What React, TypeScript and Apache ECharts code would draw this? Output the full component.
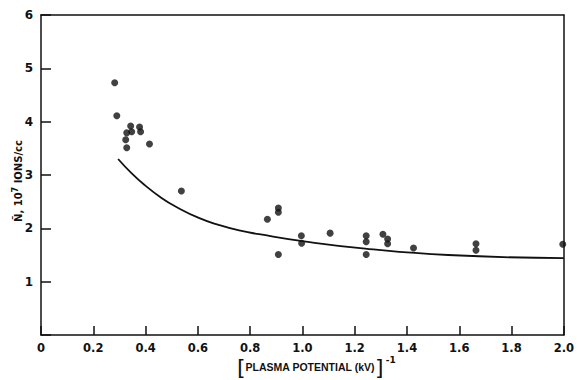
import React, { useEffect, useRef } from "react";
import * as echarts from "echarts";

const pointX = [0.282, 0.29, 0.324, 0.328, 0.328, 0.343, 0.347, 0.377, 0.381, 0.415, 0.537, 0.866, 0.908, 0.908, 0.908, 0.996, 0.997, 1.106, 1.244, 1.244, 1.244, 1.308, 1.326, 1.326, 1.425, 1.664, 1.664, 1.996];
const pointY = [4.73, 4.11, 3.66, 3.51, 3.79, 3.92, 3.81, 3.90, 3.81, 3.58, 2.70, 2.17, 2.38, 2.30, 1.51, 1.86, 1.72, 1.91, 1.86, 1.75, 1.51, 1.89, 1.80, 1.71, 1.63, 1.71, 1.59, 1.70];

const curveX = [0.295, 0.347, 0.397, 0.461, 0.518, 0.606, 0.682, 0.758, 0.834, 1.0, 1.24, 1.558, 2.0];
const curveY = [3.30, 3.03, 2.81, 2.57, 2.40, 2.19, 2.06, 1.96, 1.89, 1.76, 1.62, 1.50, 1.44];

const xTickLabels = ["0", "0.2", "0.4", "0.6", "0.8", "1.0", "1.2", "1.4", "1.6", "1.8", "2.0"];
const yTickLabels = ["", "1", "2", "3", "4", "5", "6"];

const FONT = "DejaVu Sans";
const TITLE_FONT = "Liberation Sans";
const INK = "#111";
const W = 577;
const H = 380;

export default function App() {
  const ref = useRef<HTMLDivElement>(null);
  useEffect(() => {
    if (!ref.current) return;
    const chart = echarts.init(ref.current, null, { renderer: "svg" });
    const points = pointX.map((x, i) => [x, pointY[i]]);
    const curve = curveX.map((x, i) => [x, curveY[i]]);
    const mkLine = () => ({ show: true, onZero: false, lineStyle: { color: INK, width: 1.5 } });
    chart.setOption({
      animation: false,
      grid: { left: 41, right: 11, top: 15, bottom: 45 },
      xAxis: [
        {
          type: "value",
          position: "bottom",
          min: 0,
          max: 2,
          interval: 0.2,
          axisLine: mkLine(),
          axisTick: { show: true, inside: true, length: 9, lineStyle: { color: INK, width: 1.5 } },
          splitLine: { show: false },
          axisLabel: {
            margin: 7,
            color: INK,
            fontFamily: FONT,
            fontWeight: "bold",
            fontSize: 11.5,
            formatter: (v: number) => xTickLabels[Math.round(v / 0.2)] ?? "",
          },
        },
        {
          type: "value",
          position: "top",
          min: 0,
          max: 2,
          interval: 0.2,
          axisLine: mkLine(),
          axisTick: { show: false },
          axisLabel: { show: false },
          splitLine: { show: false },
        },
      ],
      yAxis: [
        {
          type: "value",
          position: "left",
          min: 0,
          max: 6,
          interval: 1,
          axisLine: mkLine(),
          axisTick: { show: true, inside: true, length: 10, lineStyle: { color: INK, width: 1.5 } },
          splitLine: { show: false },
          axisLabel: {
            margin: 8,
            color: INK,
            fontFamily: FONT,
            fontWeight: "bold",
            fontSize: 12,
            formatter: (v: number) => yTickLabels[Math.round(v)] ?? "",
          },
        },
        {
          type: "value",
          position: "right",
          min: 0,
          max: 6,
          interval: 1,
          axisLine: mkLine(),
          axisTick: { show: false },
          axisLabel: { show: false },
          splitLine: { show: false },
        },
      ],
      graphic: [
        {
          type: "text",
          x: 18,
          y: 181,
          rotation: Math.PI / 2,
          style: {
            text: "N\u0304, 10{sup|7} IONS/cc",
            fontFamily: FONT,
            fontWeight: "bold",
            fontSize: 10,
            fill: INK,
            align: "center",
            verticalAlign: "middle",
            rich: {
              sup: { fontSize: 8, fontWeight: "bold", fontFamily: FONT, padding: [0, 0, 6, 0] },
            },
          },
        },
        {
          type: "text",
          x: 237,
          y: 367,
          style: {
            text: "{br|[}PLASMA POTENTIAL (kV){br|]}{sup|-1}",
            fontFamily: TITLE_FONT,
            fontWeight: "bold",
            fontSize: 10.5,
            fill: INK,
            align: "left",
            verticalAlign: "middle",
            rich: {
              br: { fontSize: 22, fontFamily: FONT, fontWeight: "normal" },
              sup: { fontSize: 9, fontFamily: FONT, fontWeight: "bold", padding: [0, 0, 14, 2] },
            },
          },
        },
      ],
      series: [
        {
          type: "line",
          data: curve,
          smooth: true,
          symbol: "none",
          lineStyle: { color: INK, width: 1.8 },
        },
        {
          type: "scatter",
          data: points,
          symbol: "circle",
          symbolSize: 7,
          itemStyle: { color: INK },
        },
      ],
    });
    return () => chart.dispose();
  }, []);
  return (
    <div
      ref={ref}
      style={{ position: "fixed", left: 0, top: 0, width: W, height: H, background: "#fff" }}
    />
  );
}
